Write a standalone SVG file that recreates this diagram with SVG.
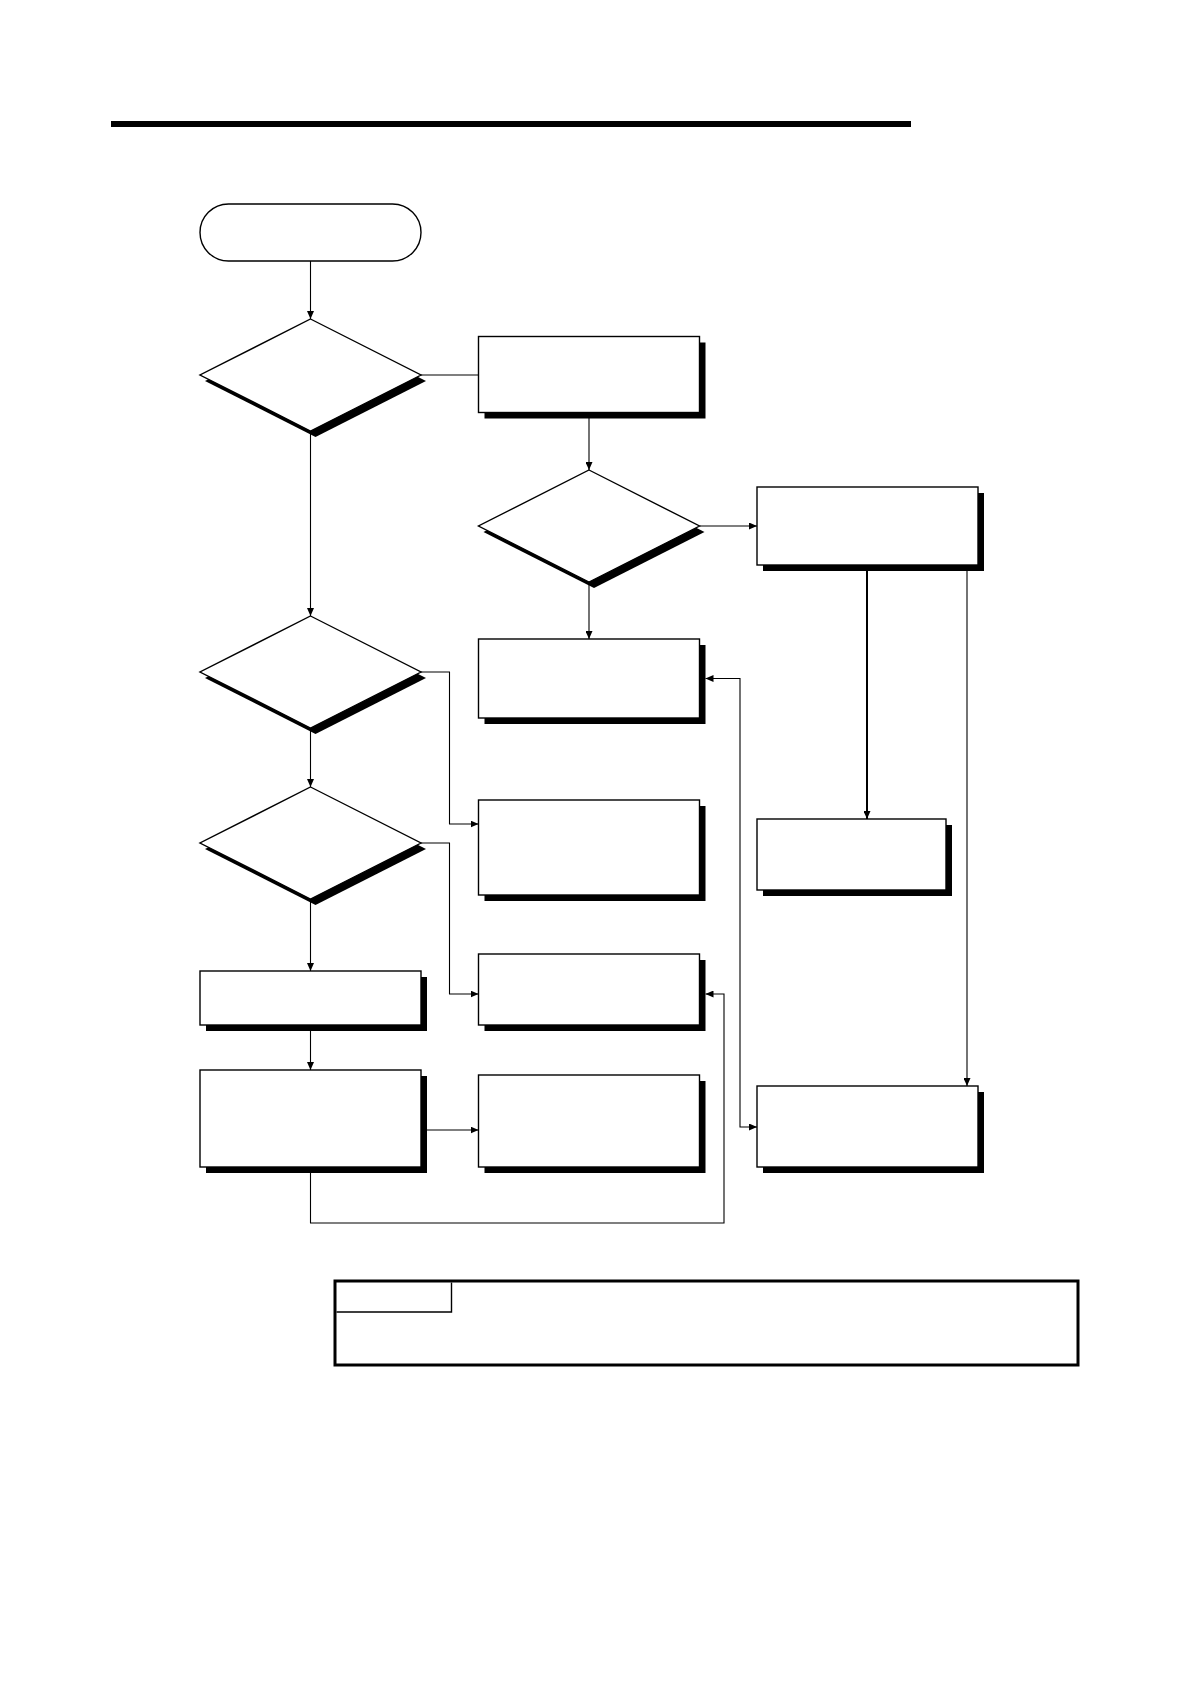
<svg xmlns="http://www.w3.org/2000/svg" width="1190" height="1684" viewBox="0 0 1190 1684">
<defs>
<marker id="arr" markerUnits="userSpaceOnUse" markerWidth="8" markerHeight="7" refX="8" refY="3.5" orient="auto-start-reverse">
<path d="M0,0 L8,3.5 L0,7 z" fill="#000"/>
</marker>
<style>
.sh{fill:#000;stroke:none}
.nd{fill:#fff;stroke:#000;stroke-width:1.4}
.cn{fill:none;stroke:#000;stroke-width:1.1}
.cn2{fill:none;stroke:#000;stroke-width:2}
</style>
</defs>
<rect width="1190" height="1684" fill="#fff"/>
<rect x="111" y="121" width="800" height="6" fill="#000"/>

<g id="connectors">
<path class="cn" d="M310.5,261 V319" marker-end="url(#arr)"/>
<path class="cn" d="M421,375 H478.5"/>
<path class="cn" d="M310.5,431 V616" marker-end="url(#arr)"/>
<path class="cn" d="M589,413 V470" marker-end="url(#arr)"/>
<path class="cn" d="M699.5,526 H757" marker-end="url(#arr)"/>
<path class="cn" d="M589,582 V639" marker-end="url(#arr)"/>
<path class="cn2" d="M867,565 V819" marker-end="url(#arr)"/>
<path class="cn" d="M967,565 V1086" marker-end="url(#arr)"/>
<path class="cn" d="M310.5,728 V787" marker-end="url(#arr)"/>
<path class="cn" d="M421,672 H449.5 V824 H478.5" marker-end="url(#arr)"/>
<path class="cn" d="M421,843 H449.5 V994 H478.5" marker-end="url(#arr)"/>
<path class="cn" d="M310.5,899 V971" marker-end="url(#arr)"/>
<path class="cn" d="M310.5,1025 V1070" marker-end="url(#arr)"/>
<path class="cn" d="M427,1130 H478.5" marker-end="url(#arr)"/>
<path class="cn" d="M310.5,1167 V1223 H724 V994 H705.5" marker-end="url(#arr)"/>
<path class="cn" d="M705.5,678.5 H740 V1127 H757" marker-start="url(#arr)" marker-end="url(#arr)"/>
</g>

<g id="start">
<rect class="nd" x="200" y="204" width="221" height="57" rx="28.5"/>
</g>
<g id="decision1">
<polygon class="sh" points="315.5,325 426,381 315.5,437 205,381"/>
<polygon class="nd" points="310.5,319 421,375 310.5,431 200,375"/>
</g>
<g id="process1">
<rect class="sh" x="484.5" y="342.5" width="221" height="76"/>
<rect class="nd" x="478.5" y="336.5" width="221" height="76"/>
</g>
<g id="decision2">
<polygon class="sh" points="594,476 704.5,532 594,588 483.5,532"/>
<polygon class="nd" points="589,470 699.5,526 589,582 478.5,526"/>
</g>
<g id="process2">
<rect class="sh" x="763" y="493" width="221" height="78"/>
<rect class="nd" x="757" y="487" width="221" height="78"/>
</g>
<g id="process3">
<rect class="sh" x="484.5" y="645" width="221" height="79"/>
<rect class="nd" x="478.5" y="639" width="221" height="79"/>
</g>
<g id="decision3">
<polygon class="sh" points="315.5,622 426,678 315.5,734 205,678"/>
<polygon class="nd" points="310.5,616 421,672 310.5,728 200,672"/>
</g>
<g id="decision4">
<polygon class="sh" points="315.5,793 426,849 315.5,905 205,849"/>
<polygon class="nd" points="310.5,787 421,843 310.5,899 200,843"/>
</g>
<g id="process4">
<rect class="sh" x="484.5" y="806" width="221" height="95"/>
<rect class="nd" x="478.5" y="800" width="221" height="95"/>
</g>
<g id="process5">
<rect class="sh" x="763" y="825" width="189" height="71"/>
<rect class="nd" x="757" y="819" width="189" height="71"/>
</g>
<g id="process6">
<rect class="sh" x="484.5" y="960" width="221" height="71"/>
<rect class="nd" x="478.5" y="954" width="221" height="71"/>
</g>
<g id="process7">
<rect class="sh" x="206" y="977" width="221" height="54"/>
<rect class="nd" x="200" y="971" width="221" height="54"/>
</g>
<g id="process8">
<rect class="sh" x="206" y="1076" width="221" height="97"/>
<rect class="nd" x="200" y="1070" width="221" height="97"/>
</g>
<g id="process9">
<rect class="sh" x="484.5" y="1081" width="221" height="92"/>
<rect class="nd" x="478.5" y="1075" width="221" height="92"/>
</g>
<g id="process10">
<rect class="sh" x="763" y="1092" width="221" height="81"/>
<rect class="nd" x="757" y="1086" width="221" height="81"/>
</g>
<g id="note">
<rect x="335" y="1281" width="743" height="84" fill="#fff" stroke="#000" stroke-width="3"/>
<path d="M336.5,1312 H451.5 V1282.5" fill="none" stroke="#000" stroke-width="1.4"/>
</g>
</svg>
